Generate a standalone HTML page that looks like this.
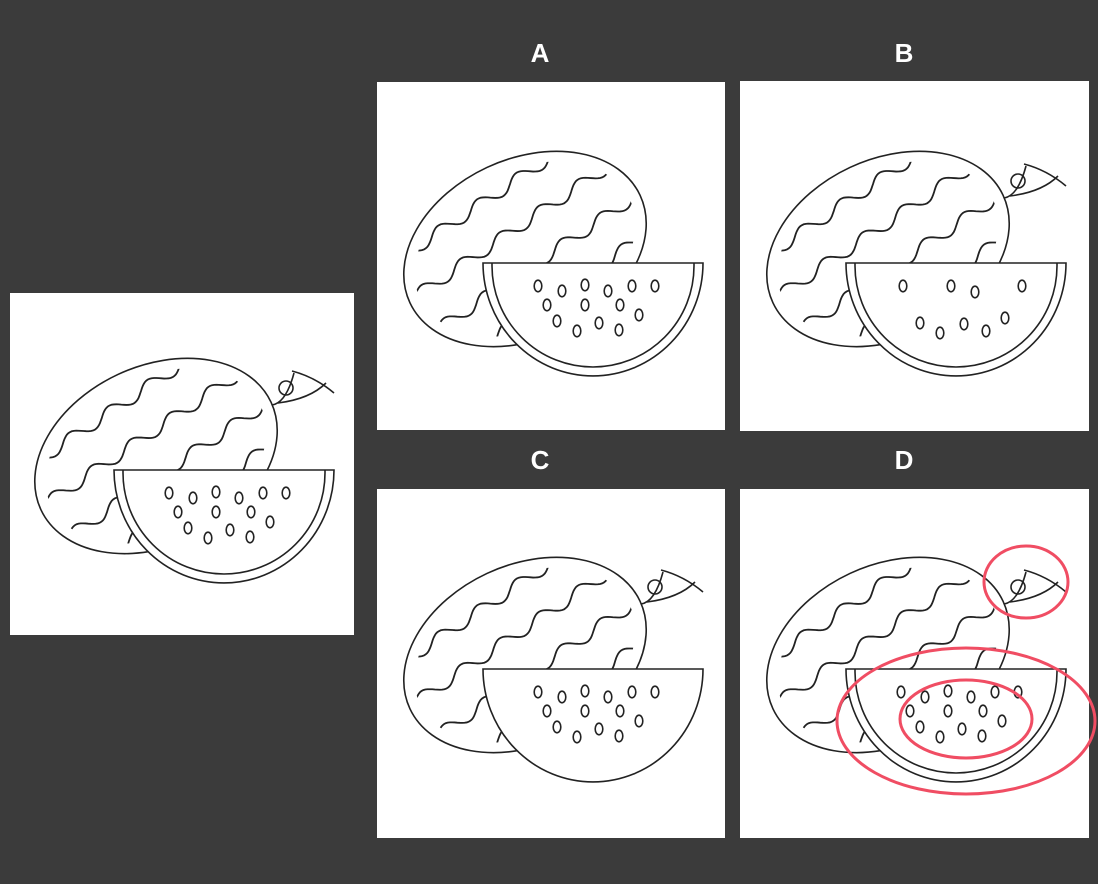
<!DOCTYPE html>
<html><head><meta charset="utf-8"><style>
html,body{margin:0;padding:0;background:#3b3b3b;}
#root{position:relative;width:1098px;height:884px;overflow:hidden;font-family:"Liberation Sans",sans-serif;}
</style></head><body>
<div id="root">
<svg id="svg" width="1098" height="884" viewBox="0 0 1098 884" xmlns="http://www.w3.org/2000/svg">
<rect x="0" y="0" width="1098" height="884" fill="#3b3b3b"/>
<defs>
<clipPath id="melonClip"><ellipse cx="0" cy="0" rx="116" ry="80"/></clipPath>
</defs>
<g id="panels"></g>
<g font-family="Liberation Sans, sans-serif" font-weight="bold" font-size="26" fill="#ffffff" text-anchor="middle">
<text x="540" y="62">A</text>
<text x="904" y="62">B</text>
<text x="540" y="469">C</text>
<text x="904" y="469">D</text>
</g>
<g id="marks" fill="none" stroke="#f04d63" stroke-width="3">
<ellipse cx="1026" cy="582" rx="42" ry="36"/>
<ellipse cx="966" cy="721" rx="129" ry="73"/>
<ellipse cx="966" cy="719" rx="66" ry="39"/>
</g>
</svg>
</div>
<script>
const allSeeds=[[159,200],[183,205],[206,199],[229,205],[253,200],[276,200],[168,219],[206,219],[241,219],[178,235],[220,237],[260,229],[198,245],[240,244]];
const fewSeeds=[[161,200],[209,200],[233,206],[280,200],[178,237],[198,247],[222,238],[244,245],[263,232]];
const panels=[
 {name:'original',x:10,y:293,w:344,h:342,dx:0,dy:0,stem:true,rind:true,seeds:allSeeds},
 {name:'option-a',x:377,y:82,w:348,h:348,dx:2,dy:4,stem:false,rind:true,seeds:allSeeds},
 {name:'option-b',x:740,y:81,w:349,h:350,dx:2,dy:5,stem:true,rind:true,seeds:fewSeeds},
 {name:'option-c',x:377,y:489,w:348,h:349,dx:2,dy:3,stem:true,rind:false,seeds:allSeeds},
 {name:'option-d',x:740,y:489,w:349,h:349,dx:2,dy:3,stem:true,rind:true,seeds:allSeeds}
];
function stripes(){
 const a=-9*Math.PI/180, d=[Math.cos(a),Math.sin(a)], n=[-Math.sin(a),Math.cos(a)];
 let s='';
 [-62,-22,18,56].forEach(o=>{
  let p='';
  for(let t=-160;t<=160;t+=2){
   const w=6*Math.sin(t/7.5);
   const x=(o+w)*n[0]+t*d[0], y=(o+w)*n[1]+t*d[1];
   p+=(p?'L':'M')+x.toFixed(1)+' '+y.toFixed(1);
  }
  s+=`<path d="${p}"/>`;
 });
 return s;
}
let html='';
panels.forEach(P=>{
 let g=`<g>`;
 g+=`<rect x="${P.x}" y="${P.y}" width="${P.w}" height="${P.h}" fill="#fff"/>`;
 g+=`<g transform="translate(${P.x+P.dx},${P.y+P.dy})" fill="none" stroke="#222" stroke-width="1.6">`;
 if(P.stem){
  g+=`<g><circle cx="276" cy="95" r="7"/><path d="M262 112 Q276 110 284 80 M268 110 Q300 106 316 90 M282 78 Q305 84 324 100"/></g>`;
 }
 g+=`<g transform="translate(146,163) rotate(-25)"><ellipse cx="0" cy="0" rx="127" ry="90"/><g clip-path="url(#melonClip)" stroke-width="1.8">${stripes()}</g></g>`;
 g+=`<g><path d="M104 177 L324 177 A110 113 0 0 1 104 177 Z" fill="#fff"/>`;
 if(P.rind){
  g+=`<path d="M113 177 L113 180 A101 101 0 0 0 315 180 L315 177"/>`;
 }
 g+=`</g><g>`;
 P.seeds.forEach(s=>{g+=`<ellipse cx="${s[0]}" cy="${s[1]}" rx="3.8" ry="5.8"/>`;});
 g+=`</g></g></g>`;
 html+=g;
});
document.getElementById('panels').innerHTML=html;
</script>
</body></html>
